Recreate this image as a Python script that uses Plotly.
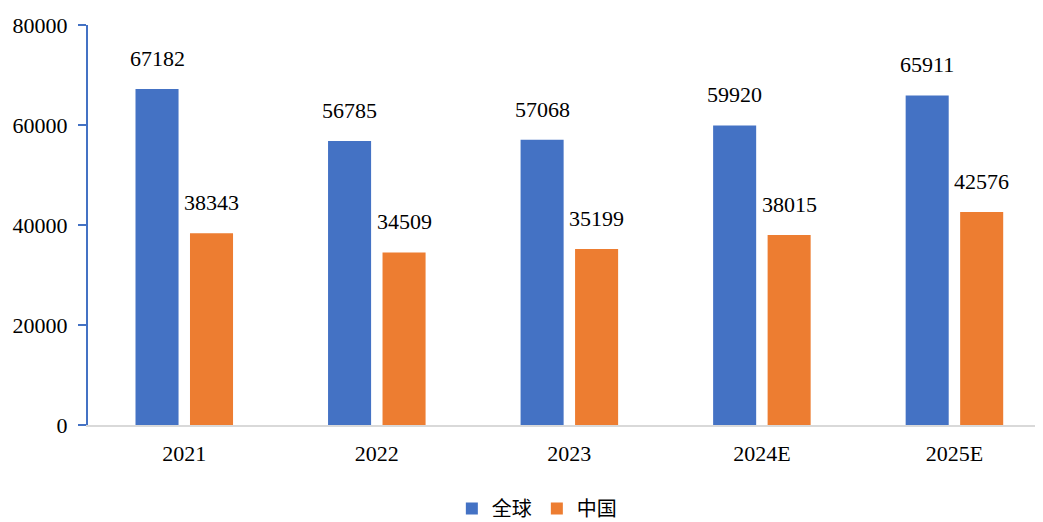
import plotly.graph_objects as go

categories = ["2021", "2022", "2023", "2024E", "2025E"]
global_vals = [67182, 56785, 57068, 59920, 65911]
china_vals = [38343, 34509, 35199, 38015, 42576]
series_names = ["全球", "中国"]
colors = ["#4472C4", "#ED7D31"]

FONT = "Liberation Serif, Times New Roman, Noto Sans CJK SC, serif"

fig = go.Figure()
for name, vals, col in zip(series_names, [global_vals, china_vals], colors):
    fig.add_trace(go.Bar(name=name, x=categories, y=vals, marker_color=col,
                         marker_line_width=0))

# value labels above bars (category index positions on the category axis)
slot_px = 54.5
for i, vals in enumerate([global_vals, china_vals]):
    for idx, v in enumerate(vals):
        fig.add_annotation(x=idx, y=v, text=str(v), showarrow=False,
                           xref="x", yref="y", yanchor="bottom",
                           xshift=(i - 0.5) * slot_px, yshift=16,
                           font=dict(family=FONT, size=22, color="#000000"))

fig.update_layout(
    width=1035, height=514,
    margin=dict(l=80, r=0, t=17, b=97, autoexpand=False),
    paper_bgcolor="white", plot_bgcolor="white",
    barmode="group", bargap=0.434, bargroupgap=0.21,
    font=dict(family=FONT, size=22, color="#000000"),
    legend=dict(orientation="h", x=0.47, xanchor="center", y=-0.16, yanchor="top",
                font=dict(family=FONT, size=20), itemwidth=30, traceorder="normal"),
    showlegend=True,
)
fig.update_xaxes(type="category", range=[-0.5, 4.46], showline=True, linecolor="#D9D9D9",
                 linewidth=2, ticks="", showgrid=False, automargin=False,
                 tickfont=dict(family=FONT, size=22), ticklabelstandoff=8)
fig.update_yaxes(range=[0, 80000], tickvals=[0, 20000, 40000, 60000, 80000],
                 ticktext=["0", "20000", "40000", "60000", "80000"],
                 showline=True, linecolor="#4472C4", linewidth=2, automargin=False,
                 ticks="outside", ticklen=8, tickcolor="#4472C4", tickwidth=2,
                 showgrid=False, zeroline=False, tickfont=dict(family=FONT, size=22),
                 ticklabelstandoff=6)

fig.write_html("out.html")
